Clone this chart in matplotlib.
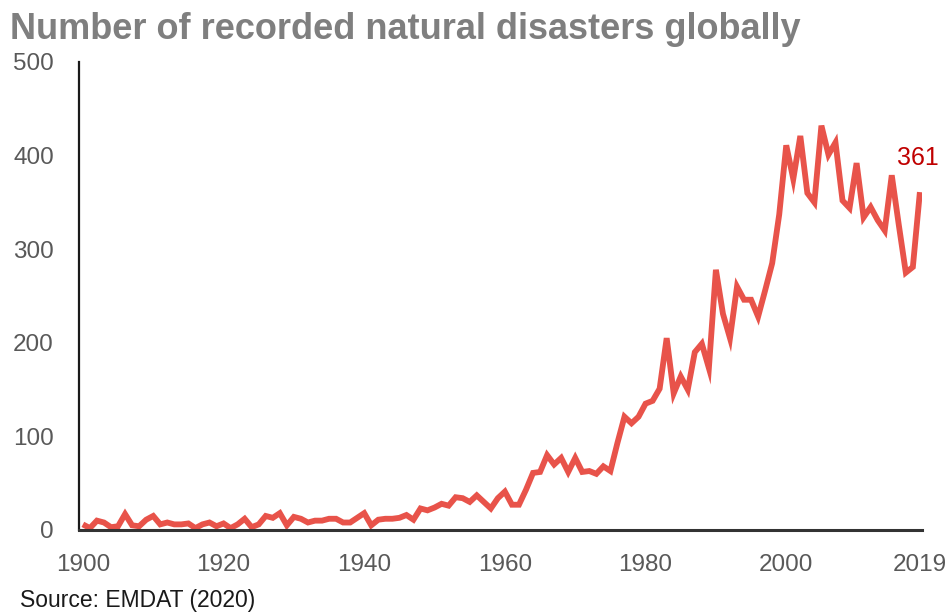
import matplotlib
matplotlib.use("Agg")
import matplotlib.pyplot as plt

years = list(range(1900, 2020))
disasters = [
    6, 2, 10, 8, 3, 4, 17, 5, 4, 11,
    15, 6, 8, 6, 6, 7, 2, 6, 8, 4,
    7, 2, 6, 12, 3, 6, 15, 13, 18, 5,
    14, 12, 8, 10, 10, 12, 12, 8, 8, 13,
    18, 5, 11, 12, 12, 13, 16, 11, 23, 21,
    24, 28, 26, 35, 34, 30, 37, 30, 23, 34,
    41, 27, 27, 43, 61, 62, 80, 70, 77, 62,
    77, 62, 63, 60, 68, 63, 93, 121, 114, 121,
    135, 138, 151, 205, 146, 164, 150, 190, 199, 173,
    278, 231, 205, 260, 246, 246, 228, 256, 285, 337,
    411, 375, 421, 360, 350, 432, 401, 414, 352, 344,
    392, 334, 345, 331, 320, 379, 326, 275, 281, 361,
]
x_ticks = [1900, 1920, 1940, 1960, 1980, 2000, 2019]
y_ticks = [0, 100, 200, 300, 400, 500]
title_text = "Number of recorded natural disasters globally"
source_text = "Source: EMDAT (2020)"

plt.rcParams["font.family"] = ["Liberation Sans", "DejaVu Sans"]

W, H = 947, 612
fig = plt.figure(figsize=(W / 100, H / 100), dpi=100)
ax = fig.add_axes([79 / W, 1 - 530 / H, (922 - 79) / W, (530 - 62) / H])

ax.plot(years, disasters, color="#E8534A", linewidth=4.2, solid_joinstyle="miter",
        solid_capstyle="butt")

ax.set_xlim(1899.45, 2019.3)
ax.set_ylim(0, 500)
ax.set_xticks(x_ticks)
ax.set_yticks(y_ticks)
ax.tick_params(axis="both", length=0, labelsize=17.5, colors="#595959")
ax.tick_params(axis="x", pad=17)
ax.tick_params(axis="y", pad=18)

for side in ("top", "right"):
    ax.spines[side].set_visible(False)
ax.spines["left"].set_color("#1a1a1a")
ax.spines["left"].set_linewidth(1.6)
ax.spines["bottom"].set_color("#333333")
ax.spines["bottom"].set_linewidth(2.2)

ax.annotate(f"{disasters[-1]}", xy=(years[-1], disasters[-1]),
            xytext=(years[-1] - 0.3, 397), textcoords="data",
            ha="center", va="center", fontsize=18, color="#C00000",
            annotation_clip=False)

fig.text(10 / W, 1 - 39 / H, title_text, fontsize=26, fontweight="bold",
         color="#7F7F7F", ha="left", va="baseline")
fig.text(20 / W, 1 - 600 / H, source_text, fontsize=16.5, color="#1a1a1a",
         ha="left", va="center")

fig.savefig("out.png", dpi=100)
